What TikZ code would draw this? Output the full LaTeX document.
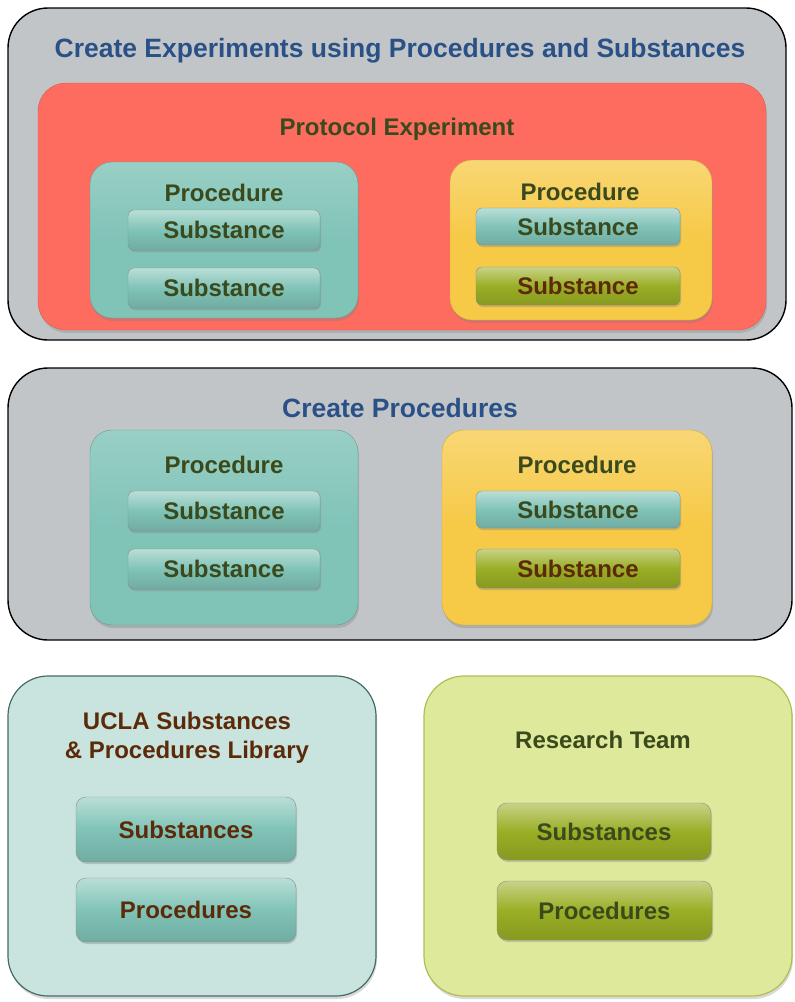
\documentclass[tikz,border=0pt]{standalone}
\usepackage{fontspec}
\setmainfont{Liberation Sans}
\usepackage{xcolor}
\usetikzlibrary{positioning,shadows}
\definecolor{panelgray}{HTML}{C1C5C7}
\definecolor{protored}{HTML}{FE6C60}
\definecolor{procteal}{HTML}{80C3B7}
\definecolor{procyellow}{HTML}{F6C946}
\definecolor{subolive}{HTML}{9AAE25}
\definecolor{libteal}{HTML}{C9E4DF}
\definecolor{teamgreen}{HTML}{DFE99C}
\definecolor{titleblue}{HTML}{2A5187}
\definecolor{darkgreen}{HTML}{3A4A1C}
\definecolor{darkbrown}{HTML}{5C2A08}

\begin{document}
\begin{tikzpicture}[x=1pt,y=-1pt,
    every node/.style={font=\fontsize{24}{29}\selectfont\bfseries,align=center,inner sep=0pt,text depth=0pt},
    panel/.style={draw=black,line width=1.4pt,fill=panelgray,rounded corners=40pt},
    bigtitle/.style={text=titleblue,font=\fontsize{26.5}{31}\selectfont\bfseries},
    label/.style={text=darkgreen},
    proc/.style={rounded corners=22pt,drop shadow={opacity=0.35,shadow xshift=1pt,shadow yshift=-3pt}},
    tealproc/.style={proc,draw=procteal!80!black,top color=procteal!80!white,bottom color=procteal,middle color=procteal},
    yellowproc/.style={proc,draw=procyellow!85!black,top color=procyellow!75!white,bottom color=procyellow,middle color=procyellow},
    chip/.style={rounded corners=6pt,draw=black!45,drop shadow={opacity=0.35,shadow xshift=1pt,shadow yshift=-2pt}},
    tealchip/.style={chip,top color=procteal!55!white,bottom color=procteal!88!black,middle color=procteal,text=darkgreen},
    olivechip/.style={chip,top color=subolive!55!white,bottom color=subolive!88!black,middle color=subolive,text=darkbrown}]
  \useasboundingbox (0,0) rectangle (795,1002);

  % experiments panel
  \node[panel,minimum width=778pt,minimum height=332pt] (expPanel) at (397,174) {};
  \node[bigtitle] (expTitle) at (400,48) {Create Experiments using Procedures and Substances};
  \node[rounded corners=28pt,fill=protored,draw=protored!85!black,minimum width=728pt,minimum height=247pt,
        drop shadow={opacity=0.3,shadow xshift=1pt,shadow yshift=-3pt}] (proto) at (402,206.5) {};
  \node[label] (protoTitle) at (397,127) {Protocol Experiment};
  \node[tealproc,minimum width=268pt,minimum height=156pt] (expProcA) at (224,240) {};
  \node[label] (expProcATitle) at (224,193) {Procedure};
  \node[tealchip,minimum width=192pt,minimum height=40pt] (expSubA1) at (224,230) {Substance};
  \node[tealchip,minimum width=192pt,minimum height=40pt] (expSubA2) at (224,288) {Substance};
  \node[yellowproc,minimum width=262pt,minimum height=160pt] (expProcB) at (581,240) {};
  \node[label] (expProcBTitle) at (580,192) {Procedure};
  \node[tealchip,minimum width=204pt,minimum height=37pt] (expSubB1) at (578,226.5) {Substance};
  \node[olivechip,minimum width=204pt,minimum height=38pt] (expSubB2) at (578,286) {Substance};

  % procedures panel
  \node[panel,minimum width=784pt,minimum height=272pt] (procPanel) at (400,504) {};
  \node[bigtitle] (procTitle) at (400,408) {Create Procedures};
  \node[tealproc,minimum width=268pt,minimum height=195pt] (procA) at (224,527.5) {};
  \node[label] (procATitle) at (224,465) {Procedure};
  \node[tealchip,minimum width=192pt,minimum height=40pt] (subA1) at (224,511) {Substance};
  \node[tealchip,minimum width=192pt,minimum height=40pt] (subA2) at (224,569) {Substance};
  \node[yellowproc,minimum width=270pt,minimum height=195pt] (procB) at (577,527.5) {};
  \node[label] (procBTitle) at (577,465) {Procedure};
  \node[tealchip,minimum width=204pt,minimum height=37pt] (subB1) at (578,509.5) {Substance};
  \node[olivechip,minimum width=204pt,minimum height=39pt] (subB2) at (578,568.5) {Substance};

  % library and team
  \node[rounded corners=40pt,fill=libteal,draw=procteal!55!black,line width=1.2pt,minimum width=368pt,minimum height=320pt,
        drop shadow={opacity=0.3,shadow xshift=1pt,shadow yshift=-3pt}] (library) at (192,836) {};
  \node[text=darkbrown] (libTitle) at (187,735) {UCLA Substances\\\& Procedures Library};
  \node[tealchip,text=darkbrown,rounded corners=10pt,minimum width=220pt,minimum height=65pt] (libSub) at (186,829.5) {Substances};
  \node[tealchip,text=darkbrown,rounded corners=10pt,minimum width=220pt,minimum height=64pt] (libProc) at (186,910) {Procedures};
  \node[rounded corners=40pt,fill=teamgreen,draw=subolive!80!white,line width=1.2pt,minimum width=368pt,minimum height=320pt,
        drop shadow={opacity=0.3,shadow xshift=1pt,shadow yshift=-3pt}] (team) at (608,836) {};
  \node[label] (teamTitle) at (603,740) {Research Team};
  \node[olivechip,text=darkgreen,rounded corners=10pt,minimum width=214pt,minimum height=57pt] (teamSub) at (604,831.5) {Substances};
  \node[olivechip,text=darkgreen,rounded corners=10pt,minimum width=215pt,minimum height=59pt] (teamProc) at (604.5,910.5) {Procedures};
\end{tikzpicture}
\end{document}
